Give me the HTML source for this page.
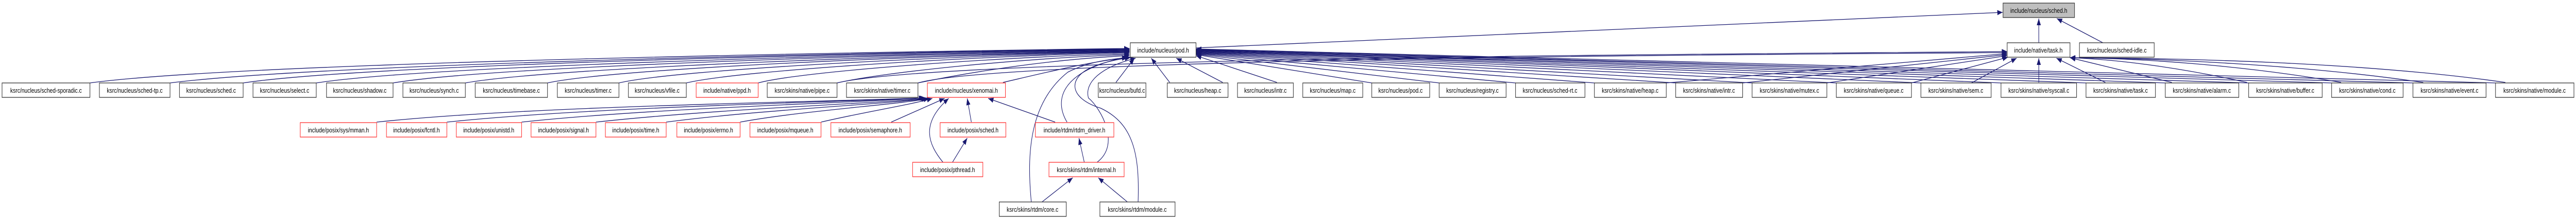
<!DOCTYPE html>
<html><head><meta charset="utf-8"><style>
html,body{margin:0;padding:0;background:#fff;width:100%;height:100%;overflow:hidden;}
svg{display:block;overflow:hidden;width:100vw;height:100vh;}
text{font-family:"Liberation Sans",sans-serif;font-size:13px;fill:#000;}
.n{fill:#fff;stroke:#333;stroke-width:1.3;}
.r{fill:#fff;stroke:#ff3030;stroke-width:1.3;}
.g{fill:#bfbfbf;stroke:#333;stroke-width:1.3;}
.e{fill:none;stroke:#191970;stroke-width:1.3;}
</style></head><body>
<svg viewBox="0 0 6272 427" preserveAspectRatio="none" xmlns="http://www.w3.org/2000/svg">
<defs><marker id="a" markerUnits="userSpaceOnUse" markerWidth="14" markerHeight="12" refX="13" refY="5" orient="auto"><path d="M0,0 L13,5 L0,10 z" fill="#191970"/></marker></defs>
<g class="e" marker-end="url(#a)">
<path d="M219,161 C600,120 2200,100 2750,94"/>
<path d="M414,161 C800,122 2200,101 2750,95"/>
<path d="M592,161 C900,124 2200,102 2750,96"/>
<path d="M770,161 C1050,126 2250,103 2750,97"/>
<path d="M957,161 C1200,128 2250,104 2750,98"/>
<path d="M1133,161 C1350,130 2300,105 2750,99"/>
<path d="M1333,161 C1500,132 2300,106 2750,100"/>
<path d="M1507,161 C1650,134 2350,107 2750,101"/>
<path d="M1671,161 C1800,136 2400,108 2750,102"/>
<path d="M1846,161 C1950,138 2450,110 2750,104"/>
<path d="M2038,161 C2150,140 2500,112 2750,106"/>
<path d="M2235,161 C2350,142 2550,115 2750,108"/>
<path d="M2442,160 C2550,140 2650,120 2752,111"/>
<path d="M2717,160 L2762,113"/>
<path d="M2848,160 L2803,113"/>
<path d="M2977,160 L2864,113"/>
<path d="M3109,160 L2912,108"/>
<path d="M3340,161 L2912,106"/>
<path d="M3504,161 L2912,105"/>
<path d="M3690,161 L2912,104"/>
<path d="M3882,161 L2912,103"/>
<path d="M4080,161 L2912,102"/>
<path d="M4266,161 L2912,101"/>
<path d="M4471,161 L2912,100"/>
<path d="M4677,161 L2912,99"/>
<path d="M4872,161 L2912,98"/>
<path d="M5079,161 L2912,98"/>
<path d="M5272,161 L2912,97"/>
<path d="M5475,161 L2912,97"/>
<path d="M5677,161 L2912,96"/>
<path d="M5875,161 L2912,96"/>
<path d="M6076,161 L2912,95"/>
<path d="M2912,93 L4876,24"/>
<path d="M2038,161 C2300,110 4300,105 4887,100"/>
<path d="M2235,161 C2450,112 4300,106 4887,102"/>
<path d="M4057,161 L4887,104"/>
<path d="M4243,161 L4887,106"/>
<path d="M4448,161 L4887,108"/>
<path d="M4654,161 L4889,111"/>
<path d="M4800,161 L4910,113"/>
<path d="M4964,160 L4964,113"/>
<path d="M5126,160 L5007,113"/>
<path d="M5288,160 L5040,112"/>
<path d="M5471,160 C5300,130 5150,115 5040,112"/>
<path d="M5700,160 C5450,125 5200,113 5040,112"/>
<path d="M5900,160 C5600,125 5250,113 5040,112"/>
<path d="M6100,160 C5750,120 5300,113 5040,112"/>
<path d="M4964,83 L4964,36"/>
<path d="M5120,83 L5008,36"/>
<path d="M917,237 C1300,205 2000,198 2250,190"/>
<path d="M1088,237 C1450,207 2050,198 2252,190"/>
<path d="M1270,237 C1600,209 2100,199 2254,190"/>
<path d="M1451,237 C1750,211 2150,200 2256,191"/>
<path d="M1622,237 C1850,213 2180,201 2258,191"/>
<path d="M1802,237 C1950,215 2200,202 2262,191"/>
<path d="M1999,237 C2100,218 2220,203 2270,191"/>
<path d="M2170,237 L2300,191"/>
<path d="M2365,237 L2355,191"/>
<path d="M2569,237 L2406,191"/>
<path d="M2319,315 L2355,268"/>
<path d="M2296,315 C2260,280 2240,240 2310,191"/>
<path d="M2640,315 L2627,268"/>
<path d="M2598,237 C2570,200 2570,140 2745,110"/>
<path d="M2671,315 C2730,280 2680,210 2650,190 C2640,160 2680,130 2765,113"/>
<path d="M2537,392 L2612,345"/>
<path d="M2745,392 L2674,345"/>
<path d="M2511,392 C2500,300 2505,200 2600,140 C2650,120 2700,115 2745,112"/>
<path d="M2771,392 C2775,300 2760,240 2680,210 C2600,190 2600,150 2660,130 C2690,120 2720,115 2752,112"/>
</g>
<g>
<rect class="g" x="4877" y="6" width="174" height="28"/><text x="4964" y="25" text-anchor="middle">include/nucleus/sched.h</text>
<rect class="n" x="2752" y="83" width="160" height="28"/><text x="2832" y="102" text-anchor="middle">include/nucleus/pod.h</text>
<rect class="n" x="4887" y="83" width="153" height="28"/><text x="4963" y="102" text-anchor="middle">include/native/task.h</text>
<rect class="n" x="5063" y="83" width="182" height="28"/><text x="5154" y="102" text-anchor="middle">ksrc/nucleus/sched-idle.c</text>
<rect class="n" x="5" y="161" width="214" height="28"/><text x="112" y="180" text-anchor="middle">ksrc/nucleus/sched-sporadic.c</text>
<rect class="n" x="242" y="161" width="172" height="28"/><text x="328" y="180" text-anchor="middle">ksrc/nucleus/sched-tp.c</text>
<rect class="n" x="437" y="161" width="155" height="28"/><text x="514" y="180" text-anchor="middle">ksrc/nucleus/sched.c</text>
<rect class="n" x="616" y="161" width="154" height="28"/><text x="693" y="180" text-anchor="middle">ksrc/nucleus/select.c</text>
<rect class="n" x="795" y="161" width="162" height="28"/><text x="876" y="180" text-anchor="middle">ksrc/nucleus/shadow.c</text>
<rect class="n" x="981" y="161" width="152" height="28"/><text x="1057" y="180" text-anchor="middle">ksrc/nucleus/synch.c</text>
<rect class="n" x="1157" y="161" width="176" height="28"/><text x="1245" y="180" text-anchor="middle">ksrc/nucleus/timebase.c</text>
<rect class="n" x="1357" y="161" width="150" height="28"/><text x="1432" y="180" text-anchor="middle">ksrc/nucleus/timer.c</text>
<rect class="n" x="1530" y="161" width="141" height="28"/><text x="1600" y="180" text-anchor="middle">ksrc/nucleus/vfile.c</text>
<rect class="r" x="1695" y="161" width="151" height="28"/><text x="1770" y="180" text-anchor="middle">include/native/ppd.h</text>
<rect class="n" x="1868" y="161" width="170" height="28"/><text x="1953" y="180" text-anchor="middle">ksrc/skins/native/pipe.c</text>
<rect class="n" x="2061" y="161" width="174" height="28"/><text x="2148" y="180" text-anchor="middle">ksrc/skins/native/timer.c</text>
<rect class="r" x="2258" y="161" width="190" height="28"/><text x="2353" y="180" text-anchor="middle">include/nucleus/xenomai.h</text>
<rect class="n" x="2674" y="161" width="116" height="28"/><text x="2732" y="180" text-anchor="middle">ksrc/nucleus/bufd.c</text>
<rect class="n" x="2842" y="161" width="148" height="28"/><text x="2916" y="180" text-anchor="middle">ksrc/nucleus/heap.c</text>
<rect class="n" x="3013" y="161" width="136" height="28"/><text x="3081" y="180" text-anchor="middle">ksrc/nucleus/intr.c</text>
<rect class="n" x="3172" y="161" width="146" height="28"/><text x="3245" y="180" text-anchor="middle">ksrc/nucleus/map.c</text>
<rect class="n" x="3340" y="161" width="141" height="28"/><text x="3410" y="180" text-anchor="middle">ksrc/nucleus/pod.c</text>
<rect class="n" x="3504" y="161" width="163" height="28"/><text x="3585" y="180" text-anchor="middle">ksrc/nucleus/registry.c</text>
<rect class="n" x="3690" y="161" width="169" height="28"/><text x="3774" y="180" text-anchor="middle">ksrc/nucleus/sched-rt.c</text>
<rect class="n" x="3882" y="161" width="175" height="28"/><text x="3969" y="180" text-anchor="middle">ksrc/skins/native/heap.c</text>
<rect class="n" x="4080" y="161" width="163" height="28"/><text x="4161" y="180" text-anchor="middle">ksrc/skins/native/intr.c</text>
<rect class="n" x="4266" y="161" width="182" height="28"/><text x="4357" y="180" text-anchor="middle">ksrc/skins/native/mutex.c</text>
<rect class="n" x="4471" y="161" width="183" height="28"/><text x="4562" y="180" text-anchor="middle">ksrc/skins/native/queue.c</text>
<rect class="n" x="4677" y="161" width="171" height="28"/><text x="4762" y="180" text-anchor="middle">ksrc/skins/native/sem.c</text>
<rect class="n" x="4872" y="161" width="184" height="28"/><text x="4964" y="180" text-anchor="middle">ksrc/skins/native/syscall.c</text>
<rect class="n" x="5079" y="161" width="169" height="28"/><text x="5163" y="180" text-anchor="middle">ksrc/skins/native/task.c</text>
<rect class="n" x="5272" y="161" width="179" height="28"/><text x="5361" y="180" text-anchor="middle">ksrc/skins/native/alarm.c</text>
<rect class="n" x="5475" y="161" width="179" height="28"/><text x="5564" y="180" text-anchor="middle">ksrc/skins/native/buffer.c</text>
<rect class="n" x="5677" y="161" width="174" height="28"/><text x="5764" y="180" text-anchor="middle">ksrc/skins/native/cond.c</text>
<rect class="n" x="5875" y="161" width="178" height="28"/><text x="5964" y="180" text-anchor="middle">ksrc/skins/native/event.c</text>
<rect class="n" x="6076" y="161" width="191" height="28"/><text x="6171" y="180" text-anchor="middle">ksrc/skins/native/module.c</text>
<rect class="r" x="731" y="238" width="186" height="28"/><text x="824" y="257" text-anchor="middle">include/posix/sys/mman.h</text>
<rect class="r" x="941" y="238" width="147" height="28"/><text x="1014" y="257" text-anchor="middle">include/posix/fcntl.h</text>
<rect class="r" x="1111" y="238" width="159" height="28"/><text x="1190" y="257" text-anchor="middle">include/posix/unistd.h</text>
<rect class="r" x="1293" y="238" width="158" height="28"/><text x="1372" y="257" text-anchor="middle">include/posix/signal.h</text>
<rect class="r" x="1474" y="238" width="148" height="28"/><text x="1548" y="257" text-anchor="middle">include/posix/time.h</text>
<rect class="r" x="1648" y="238" width="154" height="28"/><text x="1725" y="257" text-anchor="middle">include/posix/errno.h</text>
<rect class="r" x="1826" y="238" width="173" height="28"/><text x="1912" y="257" text-anchor="middle">include/posix/mqueue.h</text>
<rect class="r" x="2023" y="238" width="193" height="28"/><text x="2119" y="257" text-anchor="middle">include/posix/semaphore.h</text>
<rect class="r" x="2289" y="238" width="160" height="28"/><text x="2369" y="257" text-anchor="middle">include/posix/sched.h</text>
<rect class="r" x="2521" y="238" width="191" height="28"/><text x="2616" y="257" text-anchor="middle">include/rtdm/rtdm_driver.h</text>
<rect class="r" x="2222" y="315" width="171" height="28"/><text x="2307" y="334" text-anchor="middle">include/posix/pthread.h</text>
<rect class="r" x="2554" y="315" width="183" height="28"/><text x="2645" y="334" text-anchor="middle">ksrc/skins/rtdm/internal.h</text>
<rect class="n" x="2433" y="392" width="163" height="28"/><text x="2514" y="411" text-anchor="middle">ksrc/skins/rtdm/core.c</text>
<rect class="n" x="2678" y="392" width="183" height="28"/><text x="2769" y="411" text-anchor="middle">ksrc/skins/rtdm/module.c</text>
</g>
</svg>
</body></html>
